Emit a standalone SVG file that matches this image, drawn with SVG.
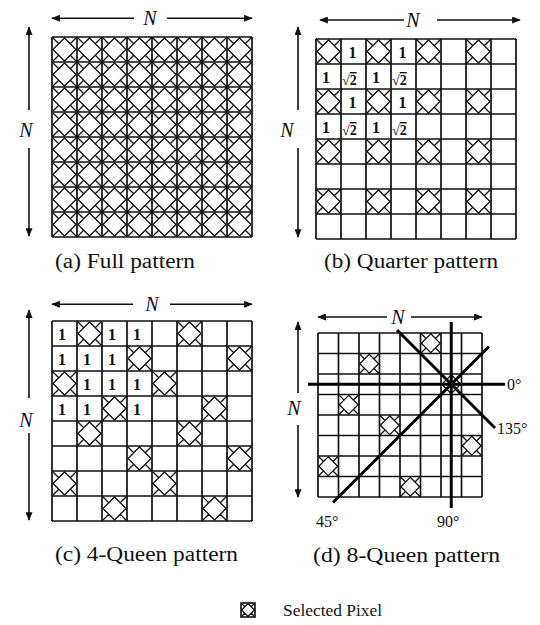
<svg xmlns="http://www.w3.org/2000/svg" xmlns:xlink="http://www.w3.org/1999/xlink" width="540" height="625" viewBox="0 0 540 625">
<style>
.grid{fill:none;stroke:#111;stroke-width:1.7}
.hx{fill:none;stroke:#111;stroke-width:1.3}
.arr{stroke:#111;stroke-width:1.6;fill:none}
.ang{stroke:#000;stroke-width:3;fill:none}
.N{font-family:"Liberation Serif","Times New Roman",serif;font-style:italic;font-size:20px;fill:#111;text-anchor:middle}
.cap{font-family:"Liberation Serif","Times New Roman",serif;font-size:20px;fill:#111}
.one{font-family:"Liberation Serif","Times New Roman",serif;font-weight:bold;font-size:16px;fill:#111;text-anchor:middle}
.rt{font-family:"Liberation Serif","Times New Roman",serif;font-weight:bold;font-size:14px;fill:#111}
.deg{font-family:"Liberation Serif","Times New Roman",serif;font-size:16px;fill:#111}
</style>
<defs>
<symbol id="hx" viewBox="0 0 20 20" overflow="visible">
<path class="hx" vector-effect="non-scaling-stroke" d="M0,0L5.4,5.4M20,0L14.6,5.4M20,20L14.6,14.6M0,20L5.4,14.6M10,0.8L19.2,10L10,19.2L0.8,10Z"/>
</symbol>
<pattern id="hatchA" x="52" y="37" width="25" height="25" patternUnits="userSpaceOnUse">
<path fill="none" stroke="#111" stroke-width="1.3" d="M0,0L6.75,6.75M25,0L18.25,6.75M25,25L18.25,18.25M0,25L6.75,18.25M12.5,1L24,12.5L12.5,24L1,12.5Z"/>
</pattern>
<marker id="ah" viewBox="0 0 10 8" refX="9" refY="4" markerWidth="9" markerHeight="7" markerUnits="userSpaceOnUse" orient="auto-start-reverse">
<path d="M0,0L10,4L0,8Z" fill="#111"/>
</marker>
</defs>
<rect width="540" height="625" fill="#fff"/>

<g id="panel-a">
<rect x="52" y="37" width="200" height="200" fill="url(#hatchA)"/>
<path class="grid" d="M52,37V237M77,37V237M102,37V237M127,37V237M152,37V237M177,37V237M202,37V237M227,37V237M252,37V237M52,37H252M52,62H252M52,87H252M52,112H252M52,137H252M52,162H252M52,187H252M52,212H252M52,237H252"/>
<text class="N" x="150" y="25">N</text>
<text class="N" x="26" y="137">N</text>
<text class="cap" x="55" y="268" textLength="140" lengthAdjust="spacingAndGlyphs">(a) Full pattern</text>
</g>

<g id="panel-b">
<g>
<use href="#hx" x="316" y="39" width="25" height="25"/><use href="#hx" x="366" y="39" width="25" height="25"/><use href="#hx" x="416" y="39" width="25" height="25"/><use href="#hx" x="466" y="39" width="25" height="25"/>
<use href="#hx" x="316" y="89" width="25" height="25"/><use href="#hx" x="366" y="89" width="25" height="25"/><use href="#hx" x="416" y="89" width="25" height="25"/><use href="#hx" x="466" y="89" width="25" height="25"/>
<use href="#hx" x="316" y="139" width="25" height="25"/><use href="#hx" x="366" y="139" width="25" height="25"/><use href="#hx" x="416" y="139" width="25" height="25"/><use href="#hx" x="466" y="139" width="25" height="25"/>
<use href="#hx" x="316" y="189" width="25" height="25"/><use href="#hx" x="366" y="189" width="25" height="25"/><use href="#hx" x="416" y="189" width="25" height="25"/><use href="#hx" x="466" y="189" width="25" height="25"/>
</g>
<path class="grid" d="M316,39V239M341,39V239M366,39V239M391,39V239M416,39V239M441,39V239M466,39V239M491,39V239M516,39V239M316,39H516M316,64H516M316,89H516M316,114H516M316,139H516M316,164H516M316,189H516M316,214H516M316,239H516"/>
<text class="one" x="352.5" y="58">1</text><text class="one" x="402.5" y="58">1</text>
<text class="one" x="352.5" y="108">1</text><text class="one" x="402.5" y="108">1</text>
<text class="one" x="326" y="83">1</text><text class="one" x="376" y="83">1</text>
<text class="one" x="326" y="133">1</text><text class="one" x="376" y="133">1</text>
<text class="rt" x="342" y="85">√<tspan text-decoration="overline">2</tspan></text>
<text class="rt" x="392" y="85">√<tspan text-decoration="overline">2</tspan></text>
<text class="rt" x="342" y="135">√<tspan text-decoration="overline">2</tspan></text>
<text class="rt" x="392" y="135">√<tspan text-decoration="overline">2</tspan></text>
<text class="N" x="413" y="27">N</text>
<text class="N" x="287" y="137">N</text>
<text class="cap" x="324" y="268" textLength="174" lengthAdjust="spacingAndGlyphs">(b) Quarter pattern</text>
</g>

<g id="panel-c">
<g>
<use href="#hx" x="77" y="321" width="25" height="25"/><use href="#hx" x="177" y="321" width="25" height="25"/>
<use href="#hx" x="127" y="346" width="25" height="25"/><use href="#hx" x="227" y="346" width="25" height="25"/>
<use href="#hx" x="52" y="371" width="25" height="25"/><use href="#hx" x="152" y="371" width="25" height="25"/>
<use href="#hx" x="102" y="396" width="25" height="25"/><use href="#hx" x="202" y="396" width="25" height="25"/>
<use href="#hx" x="77" y="421" width="25" height="25"/><use href="#hx" x="177" y="421" width="25" height="25"/>
<use href="#hx" x="127" y="446" width="25" height="25"/><use href="#hx" x="227" y="446" width="25" height="25"/>
<use href="#hx" x="52" y="471" width="25" height="25"/><use href="#hx" x="152" y="471" width="25" height="25"/>
<use href="#hx" x="102" y="496" width="25" height="25"/><use href="#hx" x="202" y="496" width="25" height="25"/>
</g>
<path class="grid" d="M52,321V521M77,321V521M102,321V521M127,321V521M152,321V521M177,321V521M202,321V521M227,321V521M252,321V521M52,321H252M52,346H252M52,371H252M52,396H252M52,421H252M52,446H252M52,471H252M52,496H252M52,521H252"/>
<text class="one" x="62" y="340">1</text><text class="one" x="112" y="340">1</text><text class="one" x="137" y="340">1</text>
<text class="one" x="62" y="365">1</text><text class="one" x="87" y="365">1</text><text class="one" x="112" y="365">1</text>
<text class="one" x="87" y="390">1</text><text class="one" x="112" y="390">1</text><text class="one" x="137" y="390">1</text>
<text class="one" x="62" y="415">1</text><text class="one" x="87" y="415">1</text><text class="one" x="137" y="415">1</text>
<text class="N" x="152" y="311">N</text>
<text class="N" x="26" y="427">N</text>
<text class="cap" x="55" y="561" textLength="183" lengthAdjust="spacingAndGlyphs">(c) 4-Queen pattern</text>
</g>

<g id="panel-d">
<g>
<use href="#hx" x="420.5" y="333" width="20.5" height="20.5"/>
<use href="#hx" x="359" y="353.5" width="20.5" height="20.5"/>
<use href="#hx" x="441" y="374" width="20.5" height="20.5"/>
<use href="#hx" x="338.5" y="394.5" width="20.5" height="20.5"/>
<use href="#hx" x="379.5" y="415" width="20.5" height="20.5"/>
<use href="#hx" x="461.5" y="435.5" width="20.5" height="20.5"/>
<use href="#hx" x="318" y="456" width="20.5" height="20.5"/>
<use href="#hx" x="400" y="476.5" width="20.5" height="20.5"/>
</g>
<path class="grid" d="M318,333V497M338.5,333V497M359,333V497M379.5,333V497M400,333V497M420.5,333V497M441,333V497M461.5,333V497M482,333V497M318,333H482M318,353.5H482M318,374H482M318,394.5H482M318,415H482M318,435.5H482M318,456H482M318,476.5H482M318,497H482"/>
<g id="angle-lines">
<path class="ang" d="M308,384.25H505"/>
<path class="ang" d="M451.25,322V508"/>
<path class="ang" d="M333,502.5L489,346.5"/>
<path class="ang" d="M397,330L495,428"/>
</g>
<text class="deg" x="507" y="390">0°</text>
<text class="deg" x="497" y="434">135°</text>
<text class="deg" x="316" y="527">45°</text>
<text class="deg" x="437" y="527">90°</text>
<text class="N" x="398" y="324">N</text>
<text class="N" x="294" y="415">N</text>
<text class="cap" x="313" y="562" textLength="187" lengthAdjust="spacingAndGlyphs">(d) 8-Queen pattern</text>
</g>

<g id="connectors">
<path class="arr" marker-start="url(#ah)" d="M52,18.3H134"/>
<path class="arr" marker-end="url(#ah)" d="M167,18.3H252"/>
<path class="arr" marker-start="url(#ah)" d="M29,27V110"/>
<path class="arr" marker-end="url(#ah)" d="M29,148V236"/>
<path class="arr" marker-start="url(#ah)" d="M320,20H404"/>
<path class="arr" marker-end="url(#ah)" d="M437,20H520"/>
<path class="arr" marker-start="url(#ah)" d="M298,27V110"/>
<path class="arr" marker-end="url(#ah)" d="M298,148V237"/>
<path class="arr" marker-start="url(#ah)" d="M52,304.3H133"/>
<path class="arr" marker-end="url(#ah)" d="M170,304.3H252"/>
<path class="arr" marker-start="url(#ah)" d="M29,310V398"/>
<path class="arr" marker-end="url(#ah)" d="M29,433V520"/>
<path class="arr" marker-start="url(#ah)" d="M318,317H387"/>
<path class="arr" marker-end="url(#ah)" d="M411,317H482"/>
<path class="arr" marker-start="url(#ah)" d="M298,322V393"/>
<path class="arr" marker-end="url(#ah)" d="M298,425V497"/>
</g>

<g id="legend">
<use href="#hx" x="241" y="603" width="14" height="14"/>
<rect x="241" y="603" width="14" height="14" fill="none" stroke="#111" stroke-width="1.6"/>
<text class="cap" x="283" y="616" textLength="99" lengthAdjust="spacingAndGlyphs" style="font-size:17px">Selected Pixel</text>
</g>
</svg>
